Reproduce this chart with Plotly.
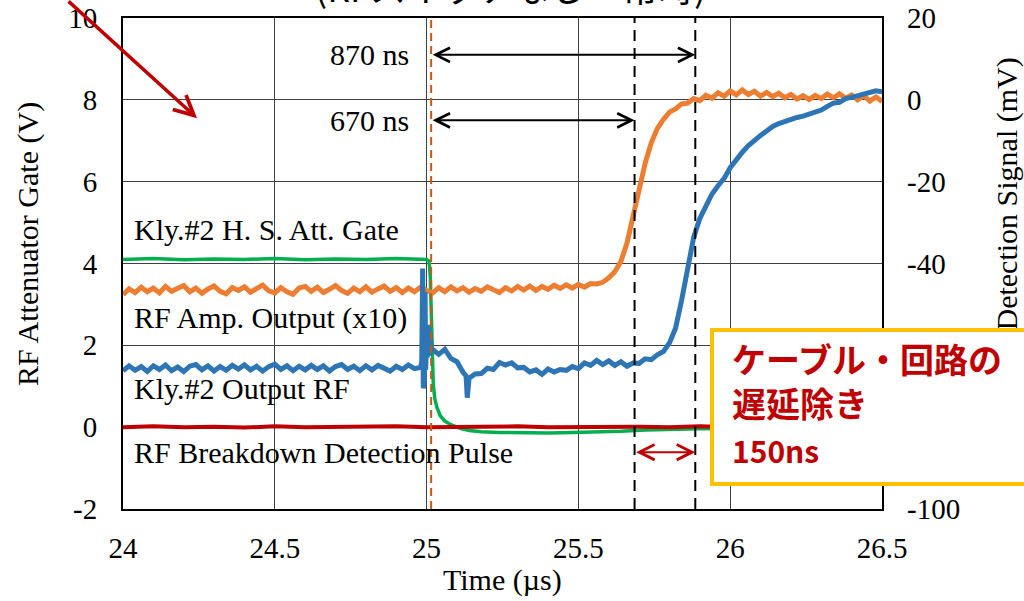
import numpy as np
import plotly.graph_objects as go

# ---------------- data ----------------
# common sampling grid for the two detector traces (µs)
t_grid = np.round(np.arange(24.0, 26.5001, 0.02), 3)

# RF Amp. Output (x10), detector signal in mV
orange_mv = [
    -47.6, -46.2, -47.1, -45.8, -46.9, -46.0, -47.2, -45.6, -46.8, -46.1,
    -45.4, -46.9, -46.0, -47.3, -46.2, -45.5, -46.8, -47.4, -45.9, -46.6,
    -45.7, -47.0, -46.1, -45.3, -46.7, -47.2, -45.9, -46.9, -47.5, -46.0,
    -45.6, -46.8, -45.8, -47.1, -46.3, -45.4, -46.6, -47.3, -46.0, -46.9,
    -45.7, -47.0, -46.2, -45.5, -46.8, -45.9, -47.1, -46.0, -46.9, -45.8,
    -46.6, -47.2, -45.9, -46.9, -45.7, -46.7, -45.9, -47.0, -46.1, -46.8,
    -45.7, -46.5, -47.1, -45.9, -46.7, -45.6, -46.5, -45.5, -46.6, -45.6,
    -46.3, -45.3, -46.1, -45.2, -46.0, -45.1, -45.8, -44.9, -45.0, -44.6,
    -43.5, -42.0, -39.5, -35.0, -28.5, -22.0, -15.5, -10.5, -7.0, -4.8,
    -3.0, -2.2, -1.0, -0.8, 0.3, -0.2, 1.1, 0.4, 1.7, 0.9,
    2.2, 1.2, 2.4, 1.3, 2.1, 0.9, 1.8, 0.8, 1.6, 0.5,
    1.3, 0.2, 1.0, 0.1, 1.1, 0.3, 1.4, 0.5, 1.5, 0.4,
    1.2, 0.0, 1.0, -0.3, 0.7, -0.4,
]

# Kly.#2 Output RF, detector signal in mV (on the common grid)
blue_mv = [
    -66.2, -65.0, -66.1, -65.2, -66.4, -65.0, -65.9, -64.8, -66.2, -65.3,
    -66.4, -65.1, -64.7, -66.0, -65.0, -66.3, -65.2, -66.1, -64.9, -65.8,
    -64.8, -66.0, -65.1, -66.3, -65.2, -64.6, -65.9, -65.0, -66.2, -65.1,
    -66.0, -64.9, -65.9, -65.0, -66.3, -65.2, -64.7, -65.9, -65.1, -66.2,
    -65.0, -66.0, -64.9, -65.7, -66.3, -65.1, -65.9, -64.8, -65.7, -65.4,
    -58.0, -61.0, -62.2, -61.0, -63.2, -64.0, -66.6, -68.0, -67.0, -66.9,
    -65.6, -65.9, -64.2, -64.8, -64.3, -65.5, -65.4, -66.5, -66.0, -67.1,
    -65.8, -66.5, -65.9, -66.1, -65.2, -65.7, -64.3, -64.9, -63.7, -64.7,
    -63.8, -64.9, -64.0, -65.1, -64.3, -64.4, -63.3, -63.5, -62.3, -61.5,
    -59.4, -55.8, -49.0, -41.5, -33.5, -29.0, -25.8, -23.0, -21.0, -19.2,
    -16.6, -14.6, -12.8, -11.2, -9.8, -8.7, -7.6, -6.5, -5.8, -5.2,
    -4.8, -4.3, -4.0, -3.5, -3.0, -2.5, -1.6, -0.8, -0.6, 0.3,
    0.6, 1.0, 1.4, 1.6, 2.2, 2.0,
]

# ringing of the Kly.#2 output when the gate switches, and the later dip
t_blue_events = [24.984, 24.987, 24.989, 24.991, 24.993, 24.995, 24.997, 24.999,
                 25.002, 25.005, 25.008, 25.011, 25.015, 25.130, 25.134, 25.137]
blue_events_mv = [-64.0, -41.2, -70.5, -50.0, -69.0, -47.0, -66.0, -52.0,
                  -63.0, -55.0, -62.5, -56.5, -60.5, -67.5, -72.8, -68.5]

# Kly.#2 H. S. Att. Gate (V)
t_green = [24.00, 24.10, 24.20, 24.30, 24.40, 24.50, 24.60, 24.70, 24.80, 24.90,
           25.000, 25.008, 25.012, 25.016, 25.019, 25.022, 25.027, 25.034, 25.045,
           25.06, 25.08, 25.11, 25.14, 25.18, 25.24, 25.32, 25.40, 25.48, 25.56,
           25.64, 25.72, 25.80, 25.90, 26.00, 26.20, 26.50]
green_v = [4.10, 4.12, 4.09, 4.11, 4.10, 4.12, 4.09, 4.11, 4.10, 4.12,
           4.10, 4.06, 3.70, 2.60, 1.60, 1.05, 0.70, 0.48, 0.28,
           0.15, 0.06, -0.03, -0.08, -0.11, -0.13, -0.14, -0.14, -0.13, -0.12,
           -0.10, -0.07, -0.05, -0.04, -0.03, -0.02, -0.02]

# RF Breakdown Detection Pulse (V)
t_red = [24.0, 24.1, 24.2, 24.3, 24.4, 24.5, 24.6, 24.7, 24.8, 24.9, 25.0, 25.1, 25.2,
         25.3, 25.4, 25.5, 25.6, 25.7, 25.8, 25.9, 26.0, 26.1, 26.2, 26.3, 26.4, 26.5]
red_v = [0.00, 0.02, 0.00, 0.01, -0.01, 0.02, 0.00, 0.01, 0.00, 0.02, 0.00, 0.01, 0.00,
         0.02, 0.00, 0.01, 0.00, 0.01, 0.00, 0.02, 0.00, 0.01, 0.00, 0.01, 0.00, 0.00]

# timing markers (µs)
t_gate = 25.015
t_amp_edge = 25.685
t_kly_edge = 25.885

series_labels = ["Kly.#2 H. S. Att. Gate", "RF Amp. Output (x10)",
                 "Kly.#2 Output RF", "RF Breakdown Detection Pulse"]
label_y = [4.82, 2.67, 0.95, -0.61]

x_ticks = [24, 24.5, 25, 25.5, 26, 26.5]
y_ticks = [-2, 0, 2, 4, 6, 8, 10]
y2_ticks = [-100, -40, -20, 0, 20]

# ---------------- figure ----------------
SERIF = "Liberation Serif, Times New Roman, serif"
JP = "Noto Sans CJK JP"

ORANGE = "#ED7D31"
BLUE = "#2E75B6"
GREEN = "#00B050"
RED = "#C00000"

# merge the ringing samples into the blue trace
t_blue_all = np.concatenate([t_grid, t_blue_events])
blue_all = np.concatenate([blue_mv, blue_events_mv])
order = np.argsort(t_blue_all, kind="stable")
t_blue_all = t_blue_all[order]
blue_all = blue_all[order]

fig = go.Figure()
fig.add_trace(go.Scatter(x=t_grid, y=orange_mv, yaxis="y2", mode="lines",
                         line=dict(color=ORANGE, width=5), name=series_labels[1]))
fig.add_trace(go.Scatter(x=t_blue_all, y=blue_all, yaxis="y2", mode="lines",
                         line=dict(color=BLUE, width=5), name=series_labels[2]))
fig.add_trace(go.Scatter(x=t_green, y=green_v, mode="lines",
                         line=dict(color=GREEN, width=3.5), name=series_labels[0]))
fig.add_trace(go.Scatter(x=t_red, y=red_v, mode="lines",
                         line=dict(color=RED, width=4), name=series_labels[3]))

shapes = [
    dict(type="line", xref="x", yref="paper", x0=t_gate, x1=t_gate, y0=0, y1=1,
         line=dict(color="#C55A11", width=2, dash="8px,5px"), layer="above"),
    dict(type="line", xref="x", yref="paper", x0=t_amp_edge, x1=t_amp_edge, y0=0, y1=1,
         line=dict(color="black", width=2, dash="11px,7px"), layer="above"),
    dict(type="line", xref="x", yref="paper", x0=t_kly_edge, x1=t_kly_edge, y0=0, y1=1,
         line=dict(color="black", width=2, dash="11px,7px"), layer="above"),
]

annotations = []

# series labels
for txt, yy in zip(series_labels, label_y):
    annotations.append(dict(x=24.03, y=yy, xref="x", yref="y", text=txt,
                            showarrow=False, xanchor="left", yanchor="middle",
                            font=dict(family=SERIF, size=30, color="black")))

# interval arrows with labels
for t_end, yy, lab in [(t_kly_edge, 9.1, "870 ns"), (t_amp_edge, 7.5, "670 ns")]:
    annotations.append(dict(x=t_end, y=yy, ax=t_gate, ay=yy, xref="x", yref="y",
                            axref="x", ayref="y", text="", showarrow=True,
                            arrowside="end+start", arrowhead=5, startarrowhead=5,
                            arrowsize=1.4, startarrowsize=1.4, arrowwidth=2,
                            arrowcolor="black", standoff=0, startstandoff=0))
    annotations.append(dict(x=24.95, y=yy, xref="x", yref="y", text=lab,
                            showarrow=False, xanchor="right", yanchor="middle",
                            font=dict(family=SERIF, size=30, color="black")))

# 150 ns interval arrow
annotations.append(dict(x=t_kly_edge, y=-0.61, ax=t_amp_edge, ay=-0.61, xref="x", yref="y",
                        axref="x", ayref="y", text="", showarrow=True,
                        arrowside="end+start", arrowhead=5, startarrowhead=5,
                        arrowsize=1.5, startarrowsize=1.5, arrowwidth=2,
                        arrowcolor=RED, standoff=0, startstandoff=0))

# pointer arrow at top left
annotations.append(dict(x=24.244, y=7.55, xref="x", yref="y", ax=-130, ay=-128,
                        text="", showarrow=True, arrowhead=5, arrowsize=1.1,
                        arrowwidth=3.5, arrowcolor=RED, standoff=0))

# chart title (runs off the top edge)
annotations.append(dict(x=0.51, y=1.066, xref="paper", yref="paper",
                        text="(RFスイッチなし・常時)", showarrow=False,
                        xanchor="center", yanchor="middle",
                        font=dict(family=JP, size=36, color="black")))

# axis titles
annotations.append(dict(x=-0.125, y=0.54, xref="paper", yref="paper",
                        text="RF Attenuator Gate (V)", textangle=-90, showarrow=False,
                        xanchor="center", yanchor="middle",
                        font=dict(family=SERIF, size=30, color="black")))
annotations.append(dict(x=1.1647, y=0.6405, xref="paper", yref="paper",
                        text="Detection Signal (mV)", textangle=-90,
                        showarrow=False, xanchor="center", yanchor="middle",
                        font=dict(family=SERIF, size=30, color="black")))
annotations.append(dict(x=0.5, y=-0.145, xref="paper", yref="paper",
                        text="Time (µs)", showarrow=False,
                        xanchor="center", yanchor="middle",
                        font=dict(family=SERIF, size=30, color="black")))

# callout box
annotations.append(dict(x=0.7734, y=0.368, xref="paper", yref="paper", text=" ",
                        showarrow=False, xanchor="left", yanchor="top",
                        width=420, height=150, bgcolor="white",
                        bordercolor="#FFC000", borderwidth=4, borderpad=0))
annotations.append(dict(x=0.7997, y=0.2627, xref="paper", yref="paper",
                        text="<b>ケーブル・回路の<br>遅延除き</b>",
                        showarrow=False, xanchor="left", yanchor="middle", align="left",
                        font=dict(family=JP, size=34, color=RED)))
annotations.append(dict(x=0.7997, y=0.1201, xref="paper", yref="paper",
                        text="<b>150ns</b>",
                        showarrow=False, xanchor="left", yanchor="middle",
                        font=dict(family=JP, size=30, color=RED)))

fig.update_layout(
    width=1024, height=601,
    margin=dict(l=123, r=142, t=18, b=92, autoexpand=False),
    paper_bgcolor="white", plot_bgcolor="white",
    showlegend=False,
    font=dict(family=SERIF, size=29, color="black"),
    xaxis=dict(range=[24, 26.5], tickvals=x_ticks, ticktext=[f"{v:g}" for v in x_ticks],
               showgrid=True, gridcolor="#404040", gridwidth=1,
               showline=True, linecolor="black", linewidth=2, mirror=True,
               ticks="", ticklabelstandoff=12, zeroline=False, automargin=False,
               tickfont=dict(family=SERIF, size=29)),
    yaxis=dict(range=[-2, 10], tickvals=y_ticks, ticktext=[f"{v:g}" for v in y_ticks],
               showgrid=True, gridcolor="#404040", gridwidth=1,
               showline=True, linecolor="black", linewidth=2, mirror=True,
               ticks="", ticklabelstandoff=18, zeroline=False, automargin=False,
               tickfont=dict(family=SERIF, size=29)),
    yaxis2=dict(range=[-100, 20], tickvals=y2_ticks, ticktext=[f"{v:g}" for v in y2_ticks],
                overlaying="y", side="right",
                showgrid=False, zeroline=False, showline=False, automargin=False,
                ticks="", ticklabelstandoff=24,
                tickfont=dict(family=SERIF, size=29)),
    shapes=shapes,
    annotations=annotations,
)

fig.write_html("out.html")
